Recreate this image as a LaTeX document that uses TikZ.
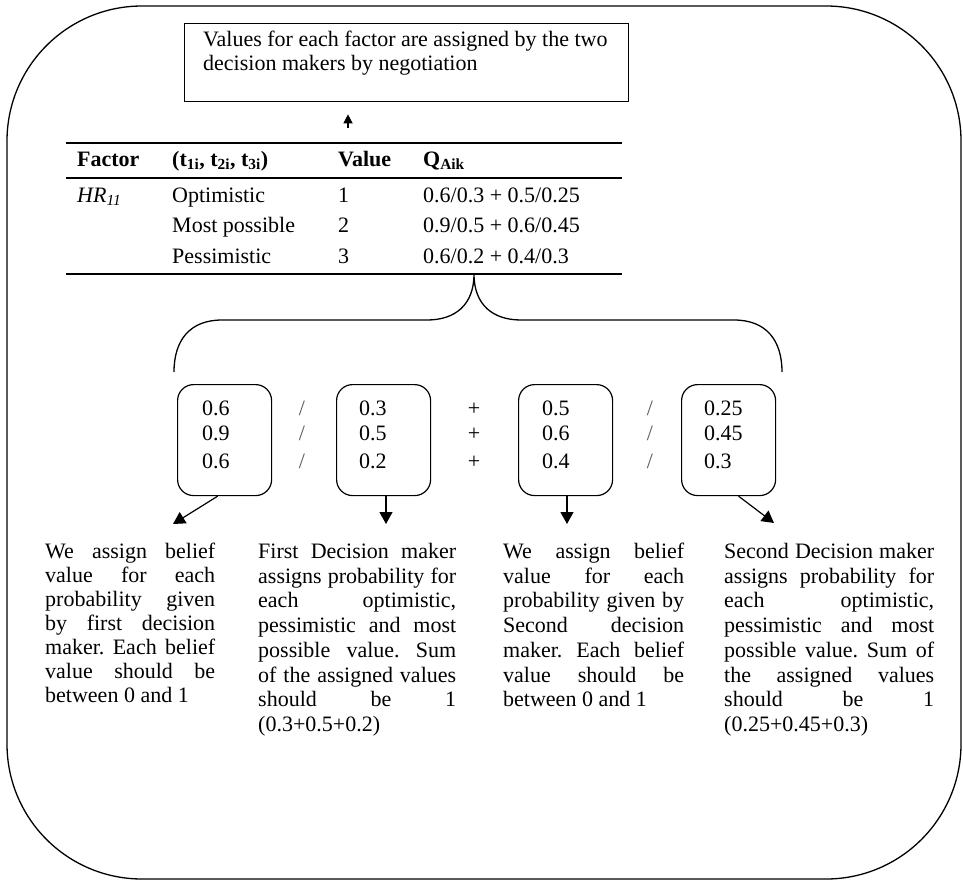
\documentclass[tikz,border=0pt]{standalone}
\usepackage{fontspec}
\setmainfont{Liberation Serif}
\usetikzlibrary{arrows.meta}
\frenchspacing
\tikzset{
  ln/.style={line width=1.3pt},
  arr/.style={line width=1.2pt,-{Triangle[length=12pt,width=13pt]}},
  arrsmall/.style={line width=1.2pt,-{Triangle[length=9pt,width=9pt]}},
  valbox/.style={draw,line width=1.2pt,rounded corners=16pt,minimum width=94pt,minimum height=111pt,anchor=north west,inner sep=0},
  txt/.style={anchor=base west,inner sep=0},
  cell/.style={anchor=base west,inner sep=0},
  sep/.style={anchor=base,inner sep=0},
  slash/.style={anchor=base,inner sep=0,text=black!65}
}
\newcommand{\jl}[2]{\makebox[#1][s]{#2}}
\begin{document}
\frenchspacing
\begin{tikzpicture}[x=1pt,y=-1pt,font=\fontsize{22}{24.7}\selectfont]
\useasboundingbox (0,0) rectangle (963,880);
% outer frame
\draw[ln,rounded corners=135pt] (7,6) rectangle (961,879);
% top box
\node[draw,ln,anchor=north west,minimum width=444pt,minimum height=78pt,inner sep=0] (topbox) at (184,23) {};
\node[txt] (toptext) at (203,47) {\parbox[t]{420pt}{\fontsize{22}{24}\selectfont Values for each factor are assigned by the two\\decision makers by negotiation}};
\coordinate (tabtop) at (348,128);
\draw[arrsmall,shorten >=12pt] (tabtop) -- (topbox.south -| tabtop);
% table
\coordinate (rTL) at (66,143);  \coordinate (rTR) at (622,143);
\coordinate (rML) at (66,178);  \coordinate (rMR) at (622,178);
\coordinate (rBL) at (66,274);  \coordinate (rBR) at (622,274);
\draw[ln] (rTL) -- (rTR);
\draw[ln] (rML) -- (rMR);
\draw[ln] (rBL) -- (rBR);
\node[cell] (h1) at (77,166) {\textbf{Factor}};
\node[cell] (h2) at (172,166) {\textbf{(t\textsubscript{1i}, t\textsubscript{2i}, t\textsubscript{3i})}};
\node[cell] (h3) at (338,166) {\textbf{Value}};
\node[cell] (h4) at (423,166) {\textbf{Q\textsubscript{Aik}}};
\node[cell] (c11) at (77,202) {\textit{HR\textsubscript{11}}};
\node[cell] (c12) at (172,202) {Optimistic};
\node[cell] (c13) at (338,202) {1};
\node[cell] (c14) at (423,202) {0.6/0.3 + 0.5/0.25};
\node[cell] (c22) at (172,232) {Most possible};
\node[cell] (c23) at (338,232) {2};
\node[cell] (c24) at (423,232) {0.9/0.5 + 0.6/0.45};
\node[cell] (c32) at (172,263) {Pessimistic};
\node[cell] (c33) at (338,263) {3};
\node[cell] (c34) at (423,263) {0.6/0.2 + 0.4/0.3};
% brace
\coordinate (tip) at (474,274);
\coordinate (bl) at (174,372);
\coordinate (br) at (782,372);
\draw[ln] (bl) .. controls (174,340) and (190,320) .. (222,320) -- (427,320)
  .. controls (455,320) and (474,305) .. (tip)
  .. controls (474,305) and (493,320) .. (521,320) -- (734,320)
  .. controls (766,320) and (782,340) .. (br);
% value boxes
\node[valbox] (b1) at (177,384) {};
\node[valbox] (b2) at (336,384) {};
\node[valbox] (b3) at (518,384) {};
\node[valbox] (b4) at (681,384) {};
\foreach \x/\a/\b/\c [count=\i] in {202/0.6/0.9/0.6, 359/0.3/0.5/0.2, 542/0.5/0.6/0.4, 704/0.25/0.45/0.3}{
  \node[cell] (v\i a) at (\x,415) {\a};
  \node[cell] (v\i b) at (\x,440) {\b};
  \node[cell] (v\i c) at (\x,468) {\c};
}
% separators
\node[slash] (s1a) at (302,415) {/};
\node[slash] (s1b) at (302,440) {/};
\node[slash] (s1c) at (302,468) {/};
\node[sep] (s2a) at (474,415) {+};
\node[sep] (s2b) at (474,440) {+};
\node[sep] (s2c) at (474,468) {+};
\node[slash] (s3a) at (650,415) {/};
\node[slash] (s3b) at (650,440) {/};
\node[slash] (s3c) at (650,468) {/};
% arrows to explanations
\coordinate (e1) at (173,524);
\coordinate (e2) at (386,524);
\coordinate (e3) at (567,524);
\coordinate (e4) at (774,523);
\draw[arr] ([xshift=-7pt]b1.south) -- (e1);
\draw[arr] (b2.south -| e2) -- (e2);
\draw[arr] (b3.south -| e3) -- (e3);
\draw[arr] ([xshift=10pt]b4.south) -- (e4);
% explanation texts
\node[txt] (t1) at (45,558.5) {\parbox[t]{170pt}{\fontsize{22}{24}\selectfont
\jl{170pt}{We assign belief}\\
\jl{170pt}{value for each}\\
\jl{170pt}{probability given}\\
\jl{170pt}{by first decision}\\
\jl{170pt}{maker. Each belief}\\
\jl{170pt}{value should be}\\
between 0 and 1}};
\node[txt] (t2) at (258,558.5) {\parbox[t]{198pt}{
\jl{198pt}{First Decision maker}\\
\jl{198pt}{assigns probability for}\\
\jl{198pt}{each optimistic,}\\
\jl{198pt}{pessimistic and most}\\
\jl{198pt}{possible value. Sum}\\
\jl{198pt}{of the assigned values}\\
\jl{198pt}{should be 1}\\
(0.3+0.5+0.2)}};
\node[txt] (t3) at (503,558.5) {\parbox[t]{181pt}{
\jl{181pt}{We assign belief}\\
\jl{181pt}{value for each}\\
\jl{181pt}{probability given by}\\
\jl{181pt}{Second decision}\\
\jl{181pt}{maker. Each belief}\\
\jl{181pt}{value should be}\\
between 0 and 1}};
\node[txt] (t4) at (724,558.5) {\parbox[t]{210pt}{
\jl{210pt}{Second Decision maker}\\
\jl{210pt}{assigns probability for}\\
\jl{210pt}{each optimistic,}\\
\jl{210pt}{pessimistic and most}\\
\jl{210pt}{possible value. Sum of}\\
\jl{210pt}{the assigned values}\\
\jl{210pt}{should be 1}\\
(0.25+0.45+0.3)}};
\end{tikzpicture}
\end{document}
